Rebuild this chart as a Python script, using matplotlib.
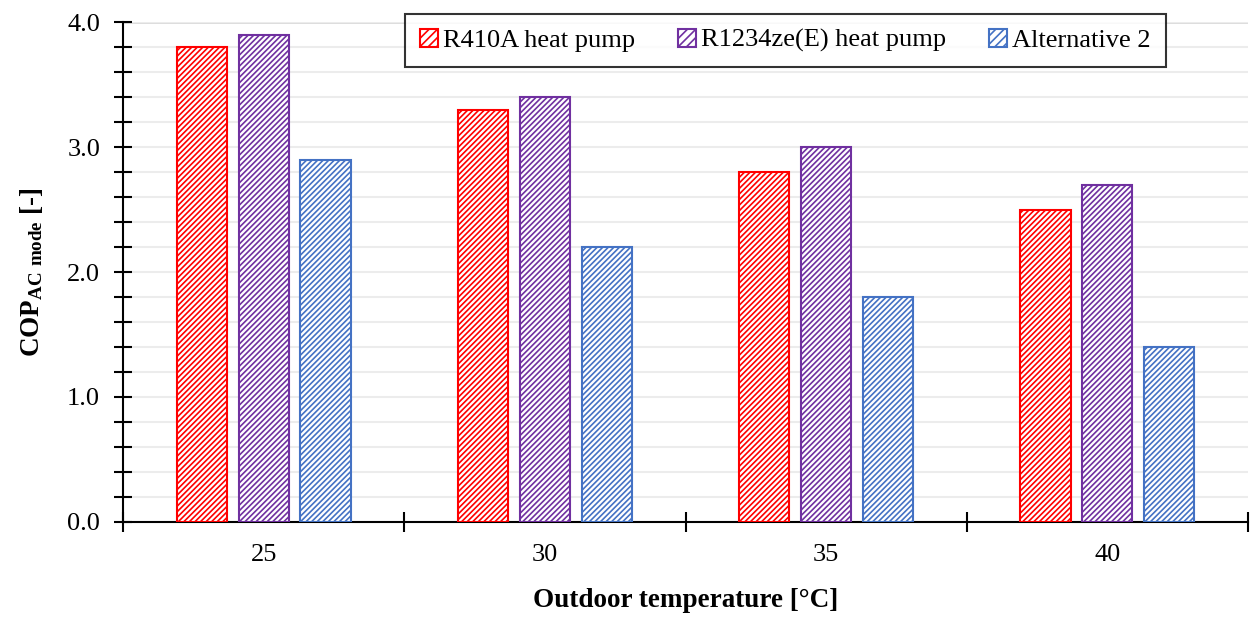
import numpy as np
import matplotlib.pyplot as plt
from matplotlib.patches import Patch

plt.rcParams['font.family'] = ['Liberation Serif', 'DejaVu Serif']
plt.rcParams['mathtext.default'] = 'regular'
plt.rcParams['hatch.linewidth'] = 1.2

temps = ['25', '30', '35', '40']
cop_r410a = [3.8, 3.3, 2.8, 2.5]
cop_r1234ze = [3.9, 3.4, 3.0, 2.7]
cop_alt2 = [2.9, 2.2, 1.8, 1.4]

labels = ['R410A heat pump', 'R1234ze(E) heat pump', 'Alternative 2']
colors = ['#FF0000', '#7030A0', '#4472C4']
hatch = '//////'

fig = plt.figure(figsize=(12.5, 6.17), dpi=100)
ax = fig.add_axes([0.0984, 0.154, 0.9, 0.8103])

x = np.arange(len(temps))
w = 0.178
offs = [-0.22, 0.0, 0.22]
for vals, c, o in zip([cop_r410a, cop_r1234ze, cop_alt2], colors, offs):
    ax.bar(x + o, vals, w, facecolor='white', edgecolor=c, hatch=hatch, lw=1.5, zorder=3)

ax.set_xlim(-0.5, 3.5)
ax.set_ylim(0, 4.0)

ax.set_yticks(np.arange(0, 4.01, 1.0))
ax.set_yticks(np.arange(0, 4.01, 0.2), minor=True)
ax.set_yticklabels(['%.1f' % v for v in np.arange(0, 4.01, 1.0)])
ax.grid(axis='y', which='both', color='#ececec', lw=1.5, zorder=0)
ax.axhline(4.0, color='#d9d9d9', lw=2, zorder=1)

ax.set_xticks(x)
ax.set_xticklabels(temps)
ax.set_xticks(np.arange(-0.5, 3.51, 1.0), minor=True)
ax.tick_params(axis='x', which='major', length=0, pad=16, labelsize=19)
ax.tick_params(axis='x', which='minor', direction='inout', length=14, width=1.5)
ax.tick_params(axis='y', which='both', direction='inout', length=13, width=1.5, labelsize=19, pad=10)

for s in ['top', 'right']:
    ax.spines[s].set_visible(False)
ax.spines['left'].set_linewidth(1.5)
ax.spines['bottom'].set_linewidth(1.5)

ax.set_xlabel('Outdoor temperature [°C]', fontsize=19.5, fontweight='bold', labelpad=16)
ax.set_ylabel('COP$_{AC\\ mode}$ [-]', fontsize=19.5, fontweight='bold', labelpad=16)

handles = [Patch(facecolor='white', edgecolor=c, hatch='////', lw=1.5) for c in colors]
leg = ax.legend(handles, labels, ncol=3, loc='upper left',
                bbox_to_anchor=(405 / 1250, 1 - 14 / 617), bbox_transform=fig.transFigure,
                fontsize=19, frameon=True, fancybox=False, edgecolor='black',
                handlelength=0.7, handleheight=0.7, handletextpad=0.2, columnspacing=1.6,
                borderpad=0.55, borderaxespad=0)
leg.get_frame().set_linewidth(1.5)
leg.set_zorder(5)

fig.savefig('out.png', dpi=100)
